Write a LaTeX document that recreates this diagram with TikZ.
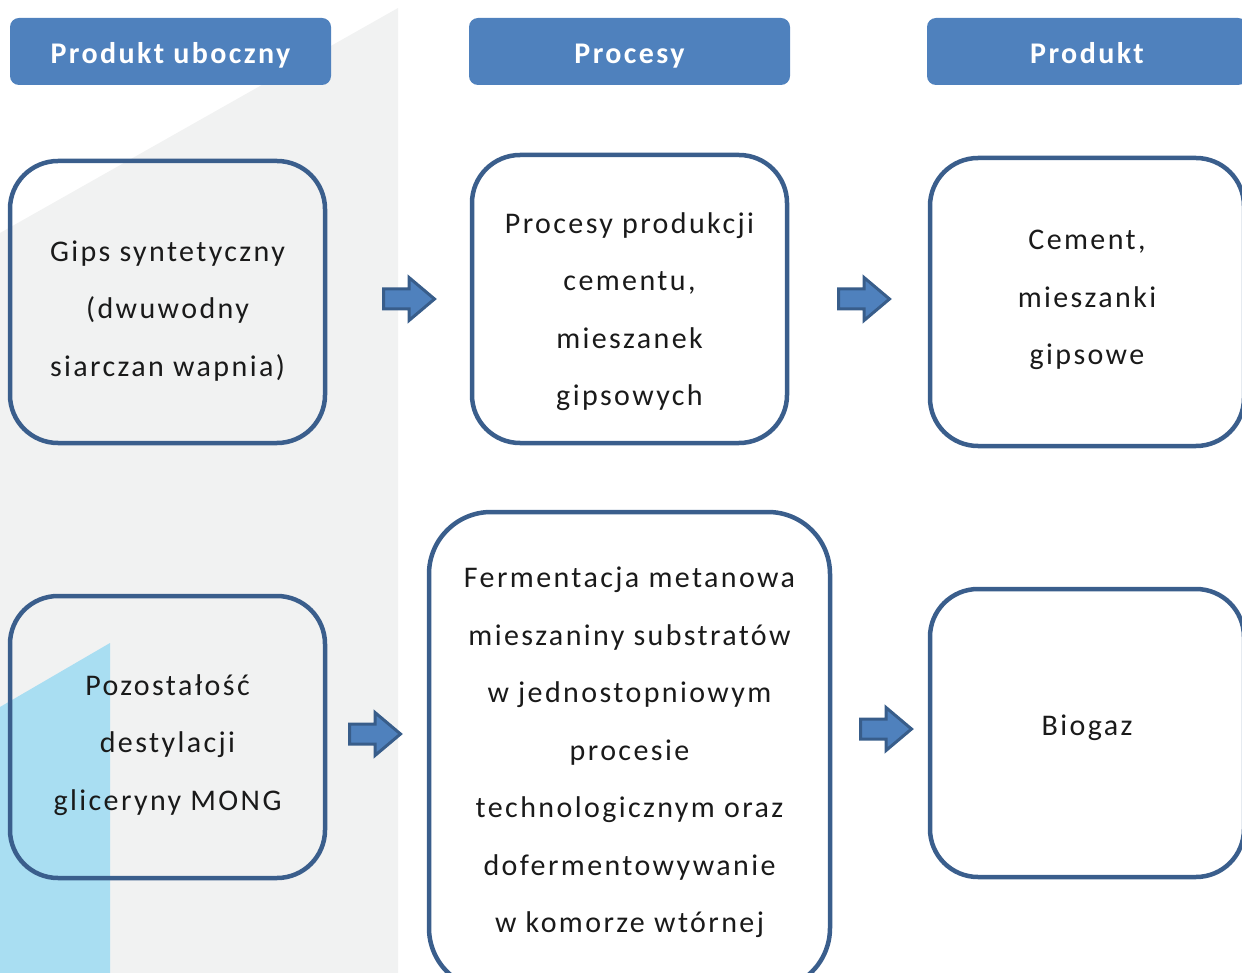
\documentclass[tikz,border=0pt]{standalone}
\usepackage{fontspec}
\setmainfont{Carlito}[LetterSpace=8]
\newfontfamily\hdrfont{Carlito}[LetterSpace=8]
\definecolor{hdrblue}{HTML}{4F81BD}
\definecolor{boxline}{HTML}{3A5E8C}
\definecolor{arrline}{HTML}{385D8A}
\definecolor{bggray}{HTML}{F1F2F2}
\definecolor{bgblue}{HTML}{A9DEF2}
\definecolor{txt}{HTML}{1A1A1A}
\begin{document}
\begin{tikzpicture}[x=1pt,y=-1pt,
  hdr/.style={fill=hdrblue, draw=none, rounded corners=9pt, minimum width=321pt, minimum height=67pt,
    text=white, font=\hdrfont\bfseries\fontsize{30}{36}\selectfont, inner sep=0pt,
    text height=25pt, text depth=0pt},
  procbox/.style={draw=boxline, line width=4.5pt, rounded corners=48pt, inner sep=0pt},
  boxtext/.style={text=txt, align=center, font=\fontsize{30}{57.5}\selectfont, inner sep=0pt},
  blockarrow/.style={fill=hdrblue, draw=arrline, line width=3pt, line join=miter}]
\useasboundingbox (0,0) rectangle (1242,973);
% background
\fill[bggray] (0,233) -- (398,8) -- (398,973) -- (0,973) -- cycle;
\fill[bgblue] (0,707) -- (110,643) -- (110,973) -- (0,973) -- cycle;
% headers
\node[hdr] (h1) at (170.5,51.5) {Produkt uboczny};
\node[hdr] (h2) at (629.5,51.5) {Procesy};
\node[hdr, minimum width=320pt] (h3) at (1087,51.5) {Produkt};
% boxes
\node[procbox, minimum width=315pt, minimum height=282pt] (b1) at (167.5,302) {};
\node[procbox, minimum width=315pt, minimum height=288pt] (b2) at (629.5,299) {};
\node[procbox, minimum width=314pt, minimum height=288pt] (b3) at (1087,302) {};
\node[procbox, minimum width=315pt, minimum height=282pt] (b4) at (167.5,737) {};
\node[procbox, rounded corners=62pt, minimum width=401pt, minimum height=478pt] (b5) at (629.5,751) {};
\node[procbox, minimum width=314pt, minimum height=288pt] (b6) at (1087,733) {};
% texts
\node[boxtext] (t1) at (167.5,311) {Gips syntetyczny\\(dwuwodny\\siarczan wapnia)};
\node[boxtext] (t2) at (629.5,311.5) {Procesy produkcji\\cementu,\\mieszanek\\gipsowych};
\node[boxtext] (t3) at (1087,300) {Cement,\\mieszanki\\gipsowe};
\node[boxtext] (t4) at (167.5,745) {Pozostałość\\destylacji\\gliceryny MONG};
\node[boxtext] (t5) at (629.5,752.5) {Fermentacja metanowa\\mieszaniny substratów\\w jednostopniowym\\procesie\\technologicznym oraz\\dofermentowywanie\\w komorze wtórnej};
\node[boxtext] (t6) at (1087,728) {Biogaz};
% arrows
\foreach \n/\cx/\cy in {a1/409/299, a2/864/299, a3/375/734, a4/886/729}{
  \coordinate (\n) at (\cx,\cy);
  \draw[blockarrow, shift={(\n)}] (-25.5,-10) -- (0,-10) -- (0,-21.5) -- (25.5,0)
     -- (0,21.5) -- (0,10) -- (-25.5,10) -- cycle;
}
\end{tikzpicture}
\end{document}
